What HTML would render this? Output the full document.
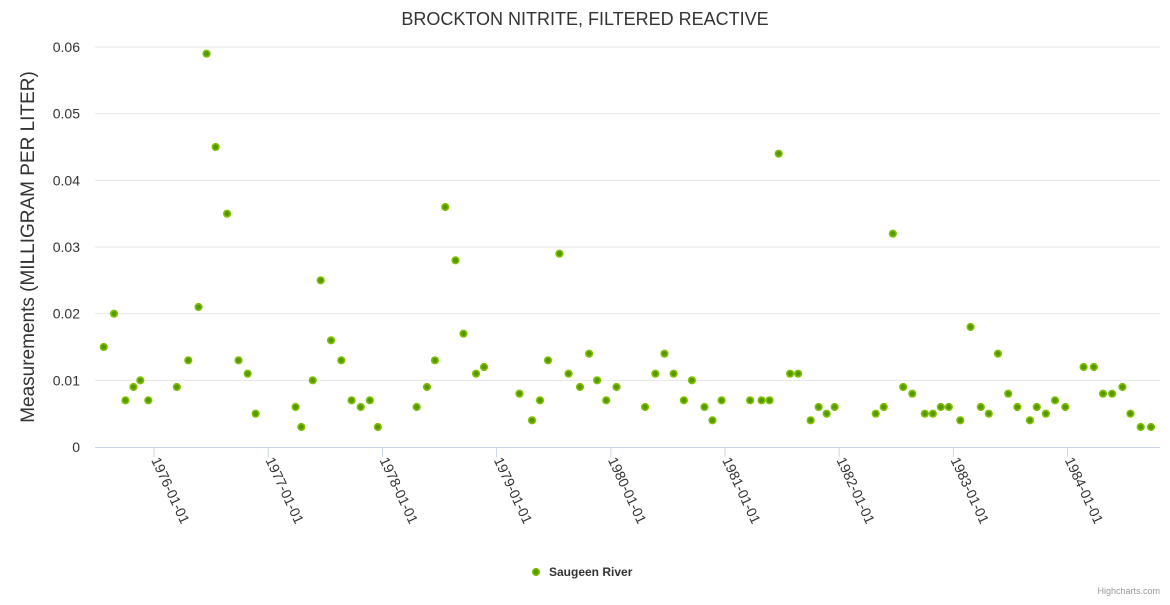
<!DOCTYPE html>
<html><head><meta charset="utf-8"><style>
body{margin:0;background:#fff;font-family:"Liberation Sans",sans-serif}
</style></head><body>
<svg id="chart" width="1170" height="600" xmlns="http://www.w3.org/2000/svg" style="font-family:'Liberation Sans',sans-serif">
<text x="585" y="25" text-anchor="middle" font-size="18" fill="#333">BROCKTON NITRITE, FILTERED REACTIVE</text>
<text transform="translate(34,247) rotate(-90)" text-anchor="middle" font-size="19" fill="#333">Measurements (MILLIGRAM PER LITER)</text>
<g id="grid"></g><g id="xaxis"></g><g id="points"></g>
<g>
<circle cx="536" cy="572" r="3.3" fill="#559900" stroke="#80c000" stroke-width="1.6"/>
<text x="549" y="576" font-size="12" font-weight="bold" fill="#333">Saugeen River</text>
</g>
<text x="1160" y="594" text-anchor="end" font-size="9" fill="#999">Highcharts.com</text>
</svg>
<script>
const dates=[1975.56,1975.65,1975.75,1975.82,1975.88,1975.95,1976.20,1976.30,1976.39,1976.46,1976.54,1976.64,1976.74,1976.82,1976.89,1977.24,1977.29,1977.39,1977.46,1977.55,1977.64,1977.73,1977.81,1977.89,1977.96,1978.30,1978.39,1978.46,1978.55,1978.64,1978.71,1978.82,1978.89,1979.20,1979.31,1979.38,1979.45,1979.55,1979.63,1979.73,1979.81,1979.88,1979.96,1980.05,1980.30,1980.39,1980.47,1980.55,1980.64,1980.71,1980.82,1980.89,1980.97,1981.22,1981.32,1981.39,1981.47,1981.57,1981.64,1981.75,1981.82,1981.89,1981.96,1982.32,1982.39,1982.47,1982.56,1982.64,1982.75,1982.82,1982.89,1982.96,1983.06,1983.15,1983.24,1983.31,1983.39,1983.48,1983.56,1983.67,1983.73,1983.81,1983.89,1983.98,1984.14,1984.23,1984.31,1984.39,1984.48,1984.55,1984.64,1984.73];
const values=[.015,.020,.007,.009,.010,.007,.009,.013,.021,.059,.045,.035,.013,.011,.005,.006,.003,.010,.025,.016,.013,.007,.006,.007,.003,.006,.009,.013,.036,.028,.017,.011,.012,.008,.004,.007,.013,.029,.011,.009,.014,.010,.007,.009,.006,.011,.014,.011,.007,.010,.006,.004,.007,.007,.007,.007,.044,.011,.011,.004,.006,.005,.006,.005,.006,.032,.009,.008,.005,.005,.006,.006,.004,.018,.006,.005,.014,.008,.006,.004,.006,.005,.007,.006,.012,.012,.008,.008,.009,.005,.003,.003];
const yTicks=[0,0.01,0.02,0.03,0.04,0.05,0.06];
const yTickLabels=["0","0.01","0.02","0.03","0.04","0.05","0.06"];
const xTicks=[1976,1977,1978,1979,1980,1981,1982,1983,1984];
const xTickLabels=["1976-01-01","1977-01-01","1978-01-01","1979-01-01","1980-01-01","1981-01-01","1982-01-01","1983-01-01","1984-01-01"];
const NS="http://www.w3.org/2000/svg";
const L=95,R=1160,T=47,B=447;
const x=t=>154+(t-1976)*114.2;
const y=v=>B-(v/0.06)*(B-T);
function mk(tag,attrs,parent){const e=document.createElementNS(NS,tag);for(const k in attrs)e.setAttribute(k,attrs[k]);parent.appendChild(e);return e;}
const grid=document.getElementById('grid');
yTicks.forEach((v,i)=>{
  if(i>0){const l=mk('line',{x1:L,x2:R,y1:y(v),y2:y(v),stroke:'#e6e6e6'},grid);
  
  }
  const t=mk('text',{x:80,y:y(v)+5,'text-anchor':'end','font-size':14,fill:'#333'},grid);
  t.textContent=yTickLabels[i];
  
  
});
const xa=document.getElementById('xaxis');
const al=mk('line',{x1:L,x2:R,y1:B+0.5,y2:B+0.5,stroke:'#ccd6eb'},xa);


xTicks.forEach((t,i)=>{
  const tk=mk('line',{x1:x(t),x2:x(t),y1:B,y2:B+10,stroke:'#ccd6eb'},xa);
  
  
  const tx=mk('text',{transform:`translate(${x(t)-3},${B+13}) rotate(65)`,'font-size':14,fill:'#333'},xa);
  tx.textContent=xTickLabels[i];
  
  
});
const pts=document.getElementById('points');
dates.forEach((d,i)=>{
  const c=mk('circle',{cx:x(d),cy:y(values[i]),r:3.3,fill:'#559900',stroke:'#80c000','stroke-width':1.6},pts);
  
  
});
</script>
</body></html>
